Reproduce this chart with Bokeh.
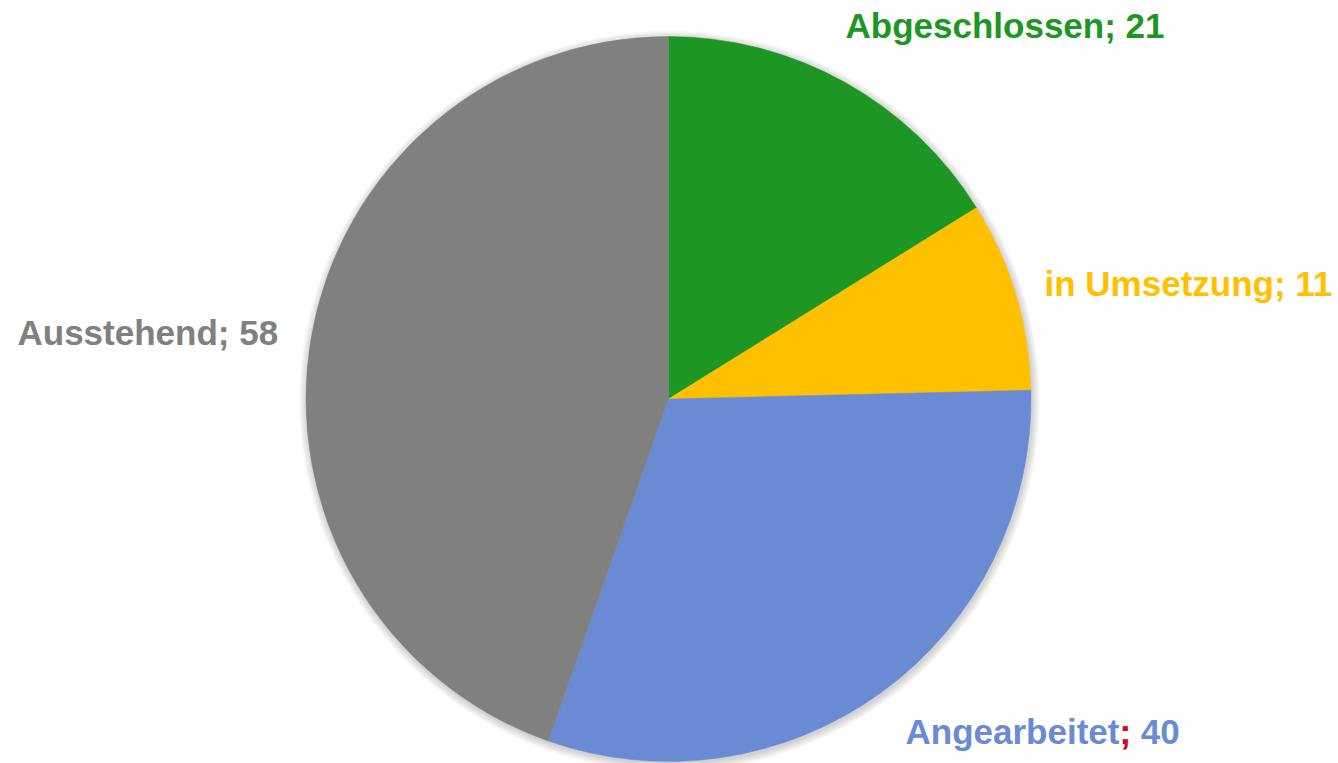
import math
from bokeh.plotting import figure
from bokeh.models import ColumnDataSource, Range1d
from bokeh.core.properties import value
from bokeh.embed import file_html
from bokeh.resources import INLINE

# ---- data ----
categories = ["Abgeschlossen", "in Umsetzung", "Angearbeitet", "Ausstehend"]
counts = [21, 11, 40, 58]
colors = ["#1E9623", "#FFC000", "#6A8BD4", "#808080"]
separator_color = ["#1E9623", "#FFC000", "#E3001B", "#808080"]

# ---- layout ----
W, H = 1338, 763
cx, cy_top = 668, 398.5
R = 362.5
font_px = 35
baseline_fix = 11
# label left x and baseline (from top, px)
label_pos = [(845, 36), (1044, 294), (905, 742), (17, 343)]

def fy(t):
    return H - t + baseline_fix

total = sum(counts)
starts, ends = [], []
cum = 0.0
for c in counts:
    a0 = math.pi / 2 - 2 * math.pi * cum / total
    cum += c
    a1 = math.pi / 2 - 2 * math.pi * cum / total
    starts.append(a0)
    ends.append(a1)

p = figure(width=W, height=H, output_backend="svg", toolbar_location=None,
           x_axis_type=None, y_axis_type=None, min_border=0,
           x_range=Range1d(0, W), y_range=Range1d(0, H))
p.outline_line_color = None
p.grid.visible = False
p.background_fill_color = "white"
p.border_fill_color = "white"

pie_y = H - cy_top

# soft shadow
for i in range(1, 10):
    p.circle(x=[cx + 1], y=[pie_y - 2], radius=R + i * 0.9,
             fill_color="black", fill_alpha=0.018, line_color=None)

src = ColumnDataSource(dict(x=[cx] * len(counts), y=[pie_y] * len(counts),
                            start=starts, end=ends, color=colors))
p.wedge(x="x", y="y", radius=R, start_angle="start", end_angle="end",
        direction="clock", fill_color="color", line_color="color",
        line_width=0.5, source=src)

labels = [f"{c}; {n}" for c, n in zip(categories, counts)]
tsrc = ColumnDataSource(dict(x=[lp[0] for lp in label_pos],
                             y=[fy(lp[1]) for lp in label_pos],
                             text=labels, color=colors))
p.text(x="x", y="y", text="text", text_color="color", source=tsrc,
       text_font=value("Liberation Sans"), text_font_style="bold",
       text_font_size=f"{font_px}px", text_align="left",
       text_baseline="alphabetic")

# red semicolon for "Angearbeitet"
# Arial/Liberation bold advance widths (per 1000 em)
adv = {"A": 722, "n": 611, "g": 611, "e": 556, "a": 556, "r": 389, "b": 611,
       "i": 278, "t": 333}
k = categories.index("Angearbeitet")
w = sum(adv[ch] for ch in categories[k]) / 1000 * font_px
p.text(x=[label_pos[k][0] + w], y=[fy(label_pos[k][1])], text=[";"],
       text_color=separator_color[k], text_font=value("Liberation Sans"),
       text_font_style="bold", text_font_size=f"{font_px}px",
       text_align="left", text_baseline="alphabetic")

open("out.html", "w").write(file_html(p, INLINE))
